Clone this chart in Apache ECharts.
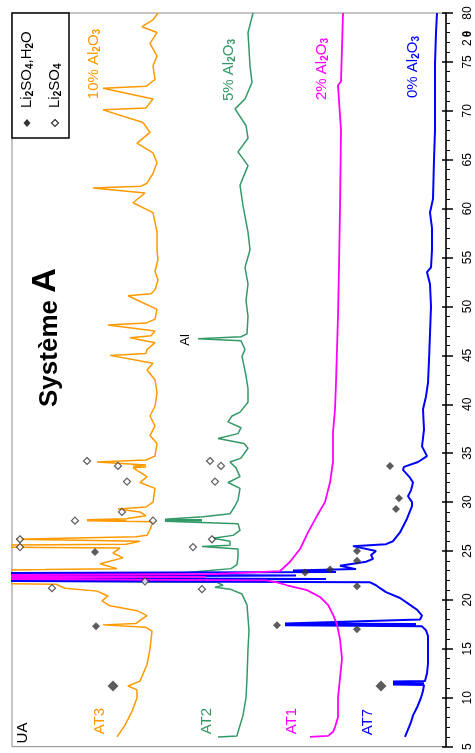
<!DOCTYPE html>
<html>
<head>
<meta charset="utf-8">
<script src="https://cdn.jsdelivr.net/npm/echarts@6/dist/echarts.min.js"></script>
<style>html,body{margin:0;padding:0;background:#fff;}#c{width:475px;height:753px;}</style>
</head>
<body>
<div id="c"></div>
<script>
// 2-theta (degrees) and intensity (arbitrary units, offset per sample)
const at7Theta = [6.0,6.5,7.0,7.5,8.2,9.0,10.0,10.7,11.3,11.35,11.4,11.45,11.5,11.55,11.6,11.65,11.7,12.5,13.5,15.0,16.3,16.9,17.3,17.4,17.45,17.5,17.55,17.6,18.0,18.4,19.0,19.5,20.2,20.8,21.2,21.5,21.8,22.0,22.15,22.3,22.5,22.7,22.85,23.0,23.15,23.5,23.9,24.2,24.6,25.0,25.5,25.7,26.0,26.9,28.3,29.6,30.0,30.6,31.2,32.0,32.5,33.3,33.6,34.1,34.7,35.7,37.4,39.5,40.8,42.2,44.5,47.2,50.0,52.3,53.5,54.0,55.8,58.0,59.6,61.0,65.0,68.0,72.0,74.8,78.0,80.0];
const at7I = [41,39,37,35,33,29,25,23,22,53,22,53,22,53,22,53,21,19,18,18,18,20,24,161,30,161,30,161,26,24,29,36,46,60,66,70,76,600,120,600,150,600,110,153,90,106,80,73,75,70,93,60,53,46,39,34,34,38,35,33,36,43,42,28,19,24,22,23,20,18,17,16,15,16,19,15,14,14,16,13,12,11,11,11,10,9];

const at1Theta = [6.0,6.1,6.5,7.0,8.0,10.0,12.0,14.0,16.0,17.5,18.5,19.5,20.3,21.0,21.5,21.8,22.0,22.2,22.35,22.5,22.65,22.95,23.9,25.2,26.9,28.6,30.0,32.0,34.1,37.1,39.5,42.2,45.6,49.0,54.0,60.0,68.0,72.6,73.0,80.0];
const at1I = [136,118,113,111,108,108,106,104,106,109,113,118,126,139,159,169,180,600,240,600,230,166,156,146,138,129,121,116,113,113,111,110,109,108,107,106,105,108,105,103];

const at2Theta = [6.0,6.1,6.5,8.2,10.0,12.0,15.0,16.8,18.2,19.5,20.6,21.1,21.3,21.5,21.8,22.05,22.2,22.55,22.7,23.0,23.2,23.6,24.4,25.2,25.45,25.6,26.0,26.3,26.6,27.1,27.8,28.05,28.1,28.15,28.2,28.25,28.3,28.5,28.8,29.6,30.2,31.4,32.0,32.6,33.5,34.1,34.5,35.5,36.0,36.5,37.0,37.6,38.2,38.8,39.2,40.2,41.6,42.9,44.9,45.6,46.5,46.7,46.9,47.2,49.0,50.6,52.3,54.0,54.7,55.8,57.6,60.3,62.4,64.4,65.8,67.2,68.5,70.2,71.2,72.9,74.6,78.0,80.0];
const at2I = [228,209,208,203,200,199,198,197,198,199,204,216,231,223,229,600,260,600,270,236,215,209,208,208,244,216,216,233,213,206,208,281,244,281,244,281,281,243,216,211,208,206,218,206,210,216,205,198,202,228,208,205,218,214,206,198,198,200,204,201,205,248,205,199,198,200,198,201,199,196,198,203,206,198,208,198,200,211,201,194,196,198,193];

const at3Theta = [6.0,7.2,8.6,10.0,10.8,11.2,11.7,13.4,15.0,16.8,17.2,17.45,17.6,17.9,18.4,18.9,19.4,19.9,20.4,20.9,21.2,21.4,21.6,21.8,22.1,22.4,22.7,22.9,23.1,23.2,23.7,24.3,24.8,25.3,25.5,25.7,26.0,26.2,26.45,26.6,27.2,28.0,28.1,28.15,28.2,28.3,28.6,29.0,29.3,29.5,30.0,31.4,32.0,32.6,33.5,33.6,33.7,33.8,34.1,34.3,34.7,36.0,36.8,37.8,38.8,39.8,41.2,42.5,43.5,44.2,45.0,45.2,45.6,46.3,46.8,47.0,47.5,48.1,48.3,48.7,49.7,51.1,51.3,51.7,52.7,53.6,54.8,55.8,57.6,59.6,60.6,61.6,62.1,62.3,62.6,63.6,64.7,65.7,66.7,67.8,68.8,70.1,70.3,71.2,72.3,72.5,73.2,74.6,75.6,76.9,78.0,78.6,79.3,80.0];
const at3I = [329,321,314,309,309,318,306,299,296,294,300,343,310,306,299,309,336,344,338,349,381,379,390,600,420,600,430,600,401,329,346,323,333,326,600,320,306,430,310,299,296,293,359,320,359,320,300,306,328,300,293,291,306,299,313,300,313,300,349,300,291,289,296,291,296,291,289,291,299,293,336,300,299,291,316,295,291,338,300,291,289,318,295,291,288,291,288,289,289,293,313,301,353,305,299,293,289,293,309,296,303,343,300,293,343,300,291,293,289,296,289,304,293,288];

// Phase markers: Li2SO4,H2O (filled) and Li2SO4 (open)
const hydTheta = [11.2,17.3,24.9,17.4,11.2,17.0,21.4,22.8,23.1,24.0,25.0,29.3,30.4,33.7];
const hydI = [333,350,351,169,65,89,89,141,116,89,89,50,47,56];
const anhTheta = [21.2,25.4,26.2,28.1,29.0,32.1,33.7,34.2,28.1,21.9,21.1,25.4,26.2,32.1,33.7,34.2];
const anhI = [394,426,426,371,324,319,328,359,293,301,244,253,234,231,225,236];

const thetaTicks = [5,10,15,20,25,30,35,40,45,50,55,60,65,70,75,80];

const FONT = '"Liberation Sans", Arial, Helvetica, sans-serif';
const C3 = '#FF9900', C2 = '#339966', C1 = '#FF00FF', C7 = '#0000FF';

function pairs(t, v) { return t.map((x, i) => [v[i], x]); }

function lineSeries(name, t, v, color, w) {
  return { name, type: 'line', data: pairs(t, v), showSymbol: false, symbol: 'none', clip: true,
    lineStyle: { color, width: w }, itemStyle: { color }, z: 3 };
}

function rot(x, y, txt, color, size, align) {
  return {
    type: 'text', x, y, rotation: Math.PI / 2, z: 100,
    style: { text: txt, fill: color, font: size + 'px ' + FONT,
      textAlign: align || 'center', textVerticalAlign: 'middle' }
  };
}
function sub(txt, color, x, y, align) {
  return {
    type: 'text', x, y, rotation: Math.PI / 2, z: 100,
    style: { text: txt, fill: color, fontFamily: FONT, textAlign: align || 'center', textVerticalAlign: 'middle',
      rich: { n: { fontSize: 15, fontFamily: FONT, lineHeight: 16 },
              s: { fontSize: 10, fontFamily: FONT, fontWeight: 'bold', lineHeight: 9, verticalAlign: 'bottom' } } }
  };
}

const chart = echarts.init(document.getElementById('c'), null, { renderer: 'canvas' });
chart.setOption({
  animation: false,
  backgroundColor: '#ffffff',
  grid: { left: 12, right: 29, top: 13, bottom: 5, show: true, borderColor: '#8a8a8a', borderWidth: 1 },
  xAxis: { type: 'value', min: 0, max: 434, inverse: true, show: false },
  yAxis: [{
    type: 'value', min: 5, max: 80, interval: 5, position: 'right',
    axisLine: { show: true, onZero: false, lineStyle: { color: '#000', width: 1.5 } },
    axisTick: { show: true, length: 7, lineStyle: { color: '#000', width: 1.5 } },
    minorTick: { show: true, splitNumber: 5, length: 4, lineStyle: { color: '#000', width: 1 } },
    axisLabel: { rotate: 90, margin: 16, fontSize: 12, color: '#000', fontFamily: FONT,
      formatter: v => thetaTicks.includes(v) ? String(v) : '' },
    splitLine: { show: false }
  }, {
    type: 'value', min: 5, max: 80, interval: 5, position: 'right',
    axisLine: { show: false, onZero: false },
    axisTick: { show: true, inside: true, length: 4, lineStyle: { color: '#000', width: 1.5 } },
    axisLabel: { show: false }, splitLine: { show: false }
  }],
  series: [
    lineSeries('AT3', at3Theta, at3I, C3, 1.5),
    lineSeries('AT2', at2Theta, at2I, C2, 1.5),
    lineSeries('AT7', at7Theta, at7I, C7, 2),
    lineSeries('AT1', at1Theta, at1I, C1, 1.8),
    { name: 'Li2SO4,H2O', type: 'scatter', data: pairs(hydTheta, hydI), symbol: 'diamond',
      symbolSize: (v) => v[1] < 12 ? 11 : 8, itemStyle: { color: '#333' }, z: 10 },
    { name: 'Li2SO4', type: 'scatter', data: pairs(anhTheta, anhI), symbol: 'diamond', symbolSize: 7,
      itemStyle: { color: '#fff', borderColor: '#333', borderWidth: 1.2 }, z: 10 }
  ],
  graphic: [
    { type: 'rect', shape: { x: 12, y: 13, width: 57, height: 125 }, style: { fill: '#fff', stroke: '#000', lineWidth: 1.5 }, z: 90 },
    { type: 'polygon', shape: { points: [[27, 119], [30.5, 123], [27, 127], [23.5, 123]] }, style: { fill: '#333' }, z: 100 },
    { type: 'polygon', shape: { points: [[55, 119.5], [58.5, 123], [55, 126.5], [51.5, 123]] }, style: { fill: '#fff', stroke: '#333', lineWidth: 1.2 }, z: 100 },
    sub('{n|Li}{s|2}{n|SO}{s|4}{n|,H}{s|2}{n|O}', '#000', 27, 108, 'left'),
    sub('{n|Li}{s|2}{n|SO}{s|4}', '#000', 55, 108, 'left'),
    rot(100, 721, 'AT3', C3, 15),
    rot(207, 721, 'AT2', C2, 15),
    rot(292, 721, 'AT1', C1, 15),
    rot(368, 722, 'AT7', C7, 15),
    rot(23, 733, 'UA', '#000', 15),
    sub('{n|10% Al}{s|2}{n|O}{s|3}', C3, 94, 64),
    sub('{n|5% Al}{s|2}{n|O}{s|3}', C2, 229, 70),
    sub('{n|2% Al}{s|2}{n|O}{s|3}', C1, 322, 69),
    sub('{n|0% Al}{s|2}{n|O}{s|3}', C7, 413, 67),
    rot(185, 340, 'Al', '#000', 13),
    { type: 'text', x: 46, y: 407, rotation: Math.PI / 2, z: 100,
      style: { text: '{a|Système }{b|A}', fill: '#000', textAlign: 'left', textVerticalAlign: 'middle',
        rich: { a: { fontSize: 26, fontWeight: 'bold', fontFamily: FONT, verticalAlign: 'bottom', lineHeight: 34 },
                b: { fontSize: 34, fontWeight: 'bold', fontFamily: FONT, verticalAlign: 'bottom', lineHeight: 34 } } } },
    { type: 'text', x: 468, y: 46, rotation: Math.PI / 2, z: 100,
      style: { text: '{a|2}{b|θ}', fill: '#000', textAlign: 'left', textVerticalAlign: 'middle',
        rich: { a: { fontSize: 12, fontFamily: FONT, padding: [0, 2, 0, 0] }, b: { fontSize: 12, fontWeight: 'bold', fontFamily: FONT } } } }
  ]
});
</script>
</body>
</html>
